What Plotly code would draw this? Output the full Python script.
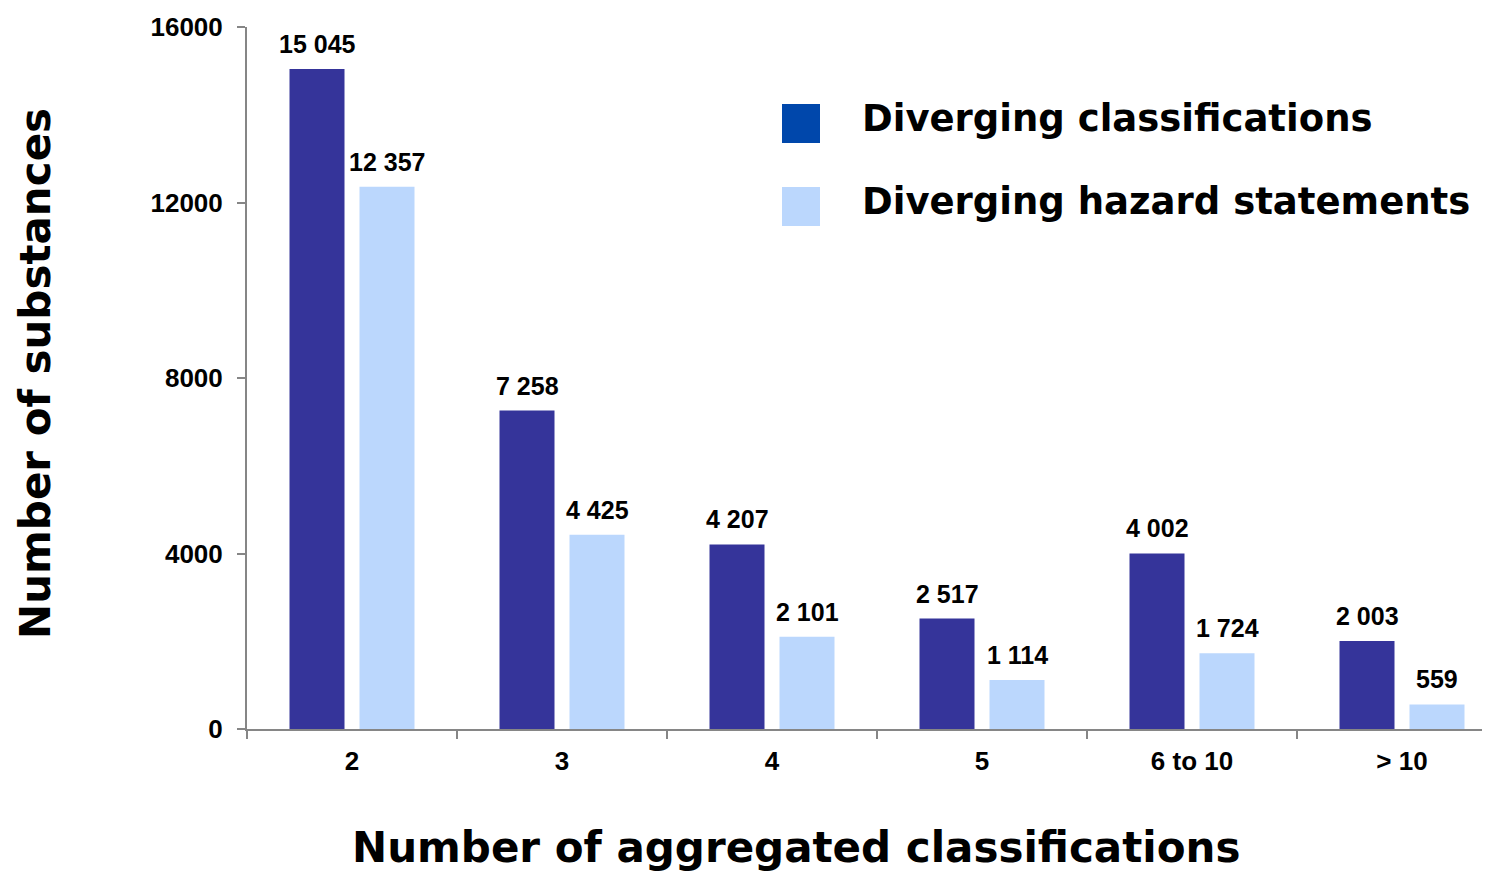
import plotly.graph_objects as go

categories = ["2", "3", "4", "5", "6 to 10", "> 10"]
diverging_classifications = [15045, 7258, 4207, 2517, 4002, 2003]
diverging_hazard_statements = [12357, 4425, 2101, 1114, 1724, 559]
series_names = ["Diverging classifications", "Diverging hazard statements"]
y_ticks = [0, 4000, 8000, 12000, 16000]
x_title = "Number of aggregated classifications"
y_title = "Number of substances"

DARK = "#35349A"
LIGHT = "#BBD7FD"
LEGEND_DARK = "#0047AB"

OFF = 8  # browser page margin
W, H = 1490 - OFF, 871 - OFF
L, R, T = 247 - OFF, 0, 27 - OFF
B = H - T - 702
PW, PH = W - L - R, H - T - B

def px(x):  # image x -> paper fraction
    return (x - OFF - L) / PW

def py(y):  # image y -> paper fraction
    return (H - B - (y - OFF)) / PH

def fmt(v):
    return f"{v:,}".replace(",", " ")

fig = go.Figure()
fig.add_trace(go.Bar(x=categories, y=diverging_classifications, name=series_names[0],
                     marker=dict(color=DARK, line=dict(width=0)), showlegend=False))
fig.add_trace(go.Bar(x=categories, y=diverging_hazard_statements, name=series_names[1],
                     marker=dict(color=LIGHT, line=dict(width=0)), showlegend=False))

annotations = []
for vals, dx in ((diverging_classifications, -35), (diverging_hazard_statements, 35)):
    for i, v in enumerate(vals):
        annotations.append(dict(x=i, y=v, xref="x", yref="y", text=fmt(v), showarrow=False,
                                xshift=dx, yanchor="bottom", yshift=9,
                                font=dict(family="Liberation Sans", size=25, color="black")))

# legend (drawn manually to match the large swatches)
shapes = []
for i, (name, col) in enumerate(zip(series_names, [LEGEND_DARK, LIGHT])):
    y0 = 104 + i * 83
    shapes.append(dict(type="rect", xref="paper", yref="paper",
                       x0=px(782), x1=px(820), y0=py(y0 + 39), y1=py(y0),
                       fillcolor=col, line=dict(width=0)))
    annotations.append(dict(xref="paper", yref="paper", x=px(860), y=py(y0 + 14),
                            text=name, showarrow=False, xanchor="left", yanchor="middle",
                            font=dict(family="DejaVu Sans", size=37, color="black", weight="bold")))

# axis titles
annotations.append(dict(xref="paper", yref="paper", x=px(796), y=py(848),
                        text=x_title, showarrow=False, xanchor="center", yanchor="middle",
                        font=dict(family="DejaVu Sans", size=42, color="black", weight="bold")))
annotations.append(dict(xref="paper", yref="paper", x=px(35), y=py(374),
                        text=y_title, showarrow=False, xanchor="center", yanchor="middle",
                        textangle=-90,
                        font=dict(family="DejaVu Sans", size=42, color="black", weight="bold")))

fig.update_layout(
    width=W, height=H,
    margin=dict(l=L, r=R, t=T, b=B, autoexpand=False),
    paper_bgcolor="white", plot_bgcolor="white",
    barmode="group", bargap=1/3, bargroupgap=15/70,
    shapes=shapes, annotations=annotations,
    font=dict(family="Liberation Sans", size=26, color="black", weight="bold"),
)
fig.update_xaxes(
    type="category", automargin=False,
    range=[-0.5, -0.5 + PW / 210], showline=True, linecolor="#868686", linewidth=2,
    ticks="outside", tickson="boundaries", ticklen=8, tickcolor="#868686", tickwidth=2,
    ticklabelstandoff=8,
    showgrid=False, zeroline=False,
    tickfont=dict(family="Liberation Sans", size=26, color="black", weight="bold"),
)
fig.update_yaxes(
    automargin=False,
    range=[0, 16000], tickvals=y_ticks, tickformat="d", showline=True, linecolor="#868686",
    linewidth=2, ticks="outside", ticklen=8, tickcolor="#868686", tickwidth=2,
    ticklabelstandoff=9,
    showgrid=False, zeroline=False,
    tickfont=dict(family="Liberation Sans", size=26, color="black", weight="bold"),
)

fig.write_html("out.html")
